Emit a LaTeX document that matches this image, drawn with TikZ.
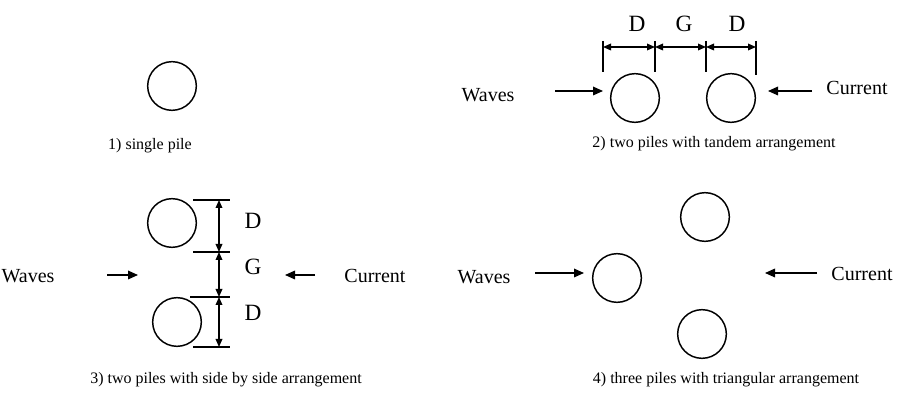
\documentclass[tikz,border=0pt]{standalone}
\usepackage{fontspec}
\setmainfont{Liberation Serif}
\usetikzlibrary{arrows.meta}
\begin{document}
\begin{tikzpicture}[x=0.75pt,y=-0.75pt,
  pile/.style={draw,circle,line width=1.1pt,minimum size=36.5pt,inner sep=0pt},
  lbl/.style={font=\fontsize{15}{17}\selectfont,inner sep=0pt},
  dimlbl/.style={font=\fontsize{17.5}{19}\selectfont,inner sep=0pt},
  captext/.style={font=\fontsize{12}{14}\selectfont,inner sep=0pt},
  flow/.style={line width=0.9pt,-{Triangle[length=7.5pt,width=6.5pt]}},
  dim/.style={line width=0.9pt,{Triangle[length=6pt,width=5pt]}-{Triangle[length=6pt,width=5pt]}},
  tick/.style={line width=0.9pt}]
\useasboundingbox (0,0) rectangle (899,402);
% Panel 1
\node[pile] (p1) at (172,86) {};
\node[captext] (c1) at (150,146) {1) single pile};
% Panel 2
\node[pile] (p2a) at (635,98) {};
\node[pile] (p2b) at (731,98) {};
\coordinate (t1a) at (603,41); \coordinate (t1b) at (603,72);
\coordinate (t2a) at (655,41); \coordinate (t2b) at (655,72);
\coordinate (t3a) at (706,41); \coordinate (t3b) at (706,72);
\coordinate (t4a) at (756,41); \coordinate (t4b) at (756,75);
\draw[tick] (t1a) -- (t1b); \draw[tick] (t2a) -- (t2b);
\draw[tick] (t3a) -- (t3b); \draw[tick] (t4a) -- (t4b);
\coordinate (h1) at (603,47); \coordinate (h2) at (655,47);
\coordinate (h3) at (706,47); \coordinate (h4) at (756,47);
\draw[dim] (h1) -- (h2); \draw[dim] (h2) -- (h3); \draw[dim] (h3) -- (h4);
\node[dimlbl] (d2a) at (637,24) {D};
\node[dimlbl] (g2) at (684,24) {G};
\node[dimlbl] (d2b) at (737,24) {D};
\node[lbl] (w2) at (488,95) {Waves};
\coordinate (w2s) at (555,91); \coordinate (w2e) at (603,91);
\draw[flow] (w2s) -- (w2e);
\coordinate (c2s) at (812,91); \coordinate (c2e) at (768,91);
\draw[flow] (c2s) -- (c2e);
\node[lbl] (cu2) at (857,88) {Current};
\node[captext] (c2) at (714,144) {2) two piles with tandem arrangement};
% Panel 3
\node[pile] (p3a) at (172,223) {};
\node[pile] (p3b) at (177,322) {};
\coordinate (l1a) at (193,200); \coordinate (l1b) at (230,200);
\coordinate (l2a) at (193,252); \coordinate (l2b) at (230,252);
\coordinate (l3a) at (190,297); \coordinate (l3b) at (230,297);
\coordinate (l4a) at (193,347); \coordinate (l4b) at (230,347);
\draw[tick] (l1a) -- (l1b); \draw[tick] (l2a) -- (l2b);
\draw[tick] (l3a) -- (l3b); \draw[tick] (l4a) -- (l4b);
\coordinate (v1) at (219,200); \coordinate (v2) at (219,252);
\coordinate (v3) at (219,297); \coordinate (v4) at (219,347);
\draw[dim] (v1) -- (v2); \draw[dim] (v2) -- (v3); \draw[dim] (v3) -- (v4);
\node[dimlbl] (d3a) at (253,221) {D};
\node[dimlbl] (g3) at (253,267) {G};
\node[dimlbl] (d3b) at (253,313) {D};
\node[lbl] (w3) at (28,276) {Waves};
\coordinate (w3s) at (107,275); \coordinate (w3e) at (138,275);
\draw[flow] (w3s) -- (w3e);
\coordinate (c3s) at (315,275); \coordinate (c3e) at (285,275);
\draw[flow] (c3s) -- (c3e);
\node[lbl] (cu3) at (375,276) {Current};
\node[captext] (c3) at (226,380) {3) two piles with side by side arrangement};
% Panel 4
\node[pile] (p4a) at (705,217) {};
\node[pile] (p4b) at (617,278) {};
\node[pile] (p4c) at (702,334) {};
\node[lbl] (w4) at (484,277) {Waves};
\coordinate (w4s) at (535,273); \coordinate (w4e) at (584,273);
\draw[flow] (w4s) -- (w4e);
\coordinate (c4s) at (817,273); \coordinate (c4e) at (765,273);
\draw[flow] (c4s) -- (c4e);
\node[lbl] (cu4) at (862,274) {Current};
\node[captext] (c4) at (726,380) {4) three piles with triangular arrangement};
\end{tikzpicture}
\end{document}
